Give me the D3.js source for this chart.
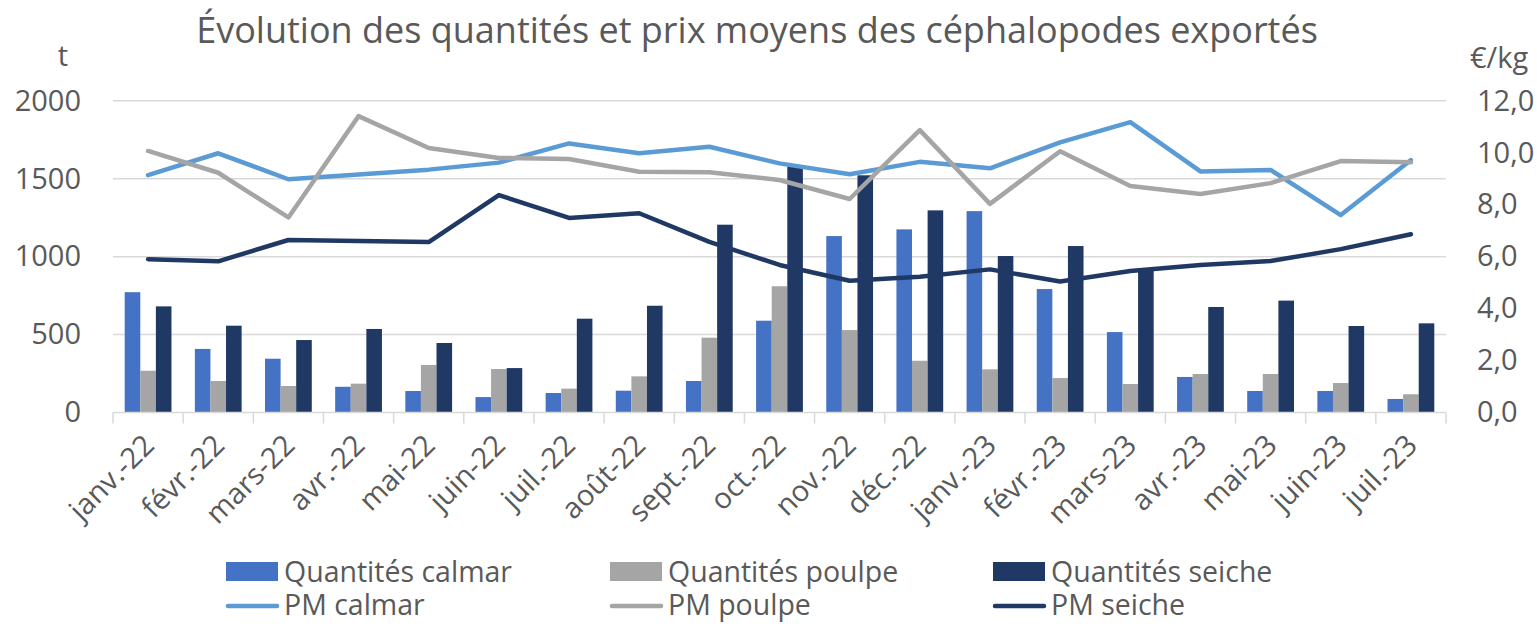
<!DOCTYPE html>
<html>
<head>
<meta charset="utf-8">
<script src="https://cdn.jsdelivr.net/npm/d3@7"></script>
<style>
  body { margin: 0; background: #fff; }
  text { font-family: "Open Sans", sans-serif; fill: #595959; }
</style>
</head>
<body>
<svg id="chart" width="1537" height="624"></svg>
<script>
// months on the x axis
var months = ['janv.-22', 'févr.-22', 'mars-22', 'avr.-22', 'mai-22', 'juin-22', 'juil.-22',
  'août-22', 'sept.-22', 'oct.-22', 'nov.-22', 'déc.-22', 'janv.-23', 'févr.-23',
  'mars-23', 'avr.-23', 'mai-23', 'juin-23', 'juil.-23'];

// quantities (t), left axis
var qteCalmar = [772, 408, 345, 165, 138, 99, 125, 140, 202, 589, 1132, 1175, 1292, 792, 516, 228, 138, 138, 87];
var qtePoulpe = [268, 202, 170, 185, 305, 279, 153, 232, 480, 810, 529, 332, 277, 221, 183, 247, 247, 189, 117];
var qteSeiche = [681, 557, 465, 536, 446, 285, 602, 685, 1205, 1578, 1522, 1297, 1004, 1068, 927, 677, 718, 555, 572];

// average prices (€/kg), right axis
var pmCalmar = [9.14, 9.98, 8.98, 9.16, 9.35, 9.62, 10.36, 9.98, 10.23, 9.59, 9.17, 9.65, 9.40, 10.40, 11.18, 9.28, 9.34, 7.60, 9.72];
var pmPoulpe = [10.07, 9.23, 7.51, 11.41, 10.18, 9.80, 9.76, 9.27, 9.25, 8.95, 8.22, 10.87, 8.03, 10.06, 8.72, 8.41, 8.83, 9.68, 9.63];
var pmSeiche = [5.90, 5.82, 6.64, 6.60, 6.56, 8.37, 7.49, 7.67, 6.57, 5.68, 5.07, 5.23, 5.51, 5.04, 5.45, 5.68, 5.83, 6.29, 6.86];

var leftTicks = [0, 500, 1000, 1500, 2000];
var rightTicks = [0, 2, 4, 6, 8, 10, 12];

var colors = {
  calmarBar: '#4472c4',
  poulpe: '#a5a5a5',
  seiche: '#203864',
  calmarLine: '#5b9bd5'
};

var svg = d3.select('#chart');
var plotLeft = 113, plotRight = 1446, plotTop = 100.8, plotBottom = 412.5;

var x = d3.scaleBand().domain(months).range([plotLeft, plotRight]);
var y = d3.scaleLinear().domain([0, 2000]).range([plotBottom, plotTop]);
var y2 = d3.scaleLinear().domain([0, 12]).range([plotBottom, plotTop]);

// bar groups: gap width 150% like the excel chart
var barW = x.bandwidth() / 4.5;
var sub = d3.scaleBand().domain(['calmar', 'poulpe', 'seiche'])
  .range([x.bandwidth() / 2 - 1.5 * barW, x.bandwidth() / 2 + 1.5 * barW]);

// gridlines
svg.append('g')
  .selectAll('line')
  .data(leftTicks.slice(1))
  .enter()
  .append('line')
  .attr('x1', plotLeft).attr('x2', plotRight)
  .attr('y1', function(d) { return y(d); })
  .attr('y2', function(d) { return y(d); })
  .attr('stroke', '#d9d9d9')
  .attr('stroke-width', 1.5);

// bars
var bars = [
  { key: 'calmar', values: qteCalmar, color: colors.calmarBar },
  { key: 'poulpe', values: qtePoulpe, color: colors.poulpe },
  { key: 'seiche', values: qteSeiche, color: colors.seiche }
];

bars.forEach(function(s) {
  svg.append('g')
    .selectAll('rect')
    .data(s.values)
    .enter()
    .append('rect')
    .attr('x', function(d, i) { return x(months[i]) + sub(s.key); })
    .attr('width', sub.bandwidth())
    .attr('y', function(d) { return y(d); })
    .attr('height', function(d) { return y(0) - y(d); })
    .attr('fill', s.color);
});

// x axis line + ticks at category boundaries
var xAxis = svg.append('g');
xAxis.append('line')
  .attr('x1', plotLeft).attr('x2', plotRight)
  .attr('y1', plotBottom).attr('y2', plotBottom)
  .attr('stroke', '#d9d9d9').attr('stroke-width', 1.5);

xAxis.selectAll('.tk')
  .data(months.concat(['end']))
  .enter()
  .append('line')
  .attr('x1', function(d, i) { return plotLeft + i * x.step(); })
  .attr('x2', function(d, i) { return plotLeft + i * x.step(); })
  .attr('y1', plotBottom).attr('y2', plotBottom + 11)
  .attr('stroke', '#d9d9d9').attr('stroke-width', 1.5);

xAxis.selectAll('.lbl')
  .data(months)
  .enter()
  .append('text')
  .attr('text-anchor', 'end')
  .attr('font-size', 29)
  .attr('transform', function(d) {
    var cx = x(d) + x.bandwidth() / 2 + 8;
    return 'translate(' + cx + ',447) rotate(-45)';
  })
  .text(function(d) { return d; });

// price lines
var lines = [
  { values: pmCalmar, color: colors.calmarLine },
  { values: pmPoulpe, color: colors.poulpe },
  { values: pmSeiche, color: colors.seiche }
];

var lineGen = d3.line()
  .x(function(d, i) { return x(months[i]) + x.bandwidth() / 2; })
  .y(function(d) { return y2(d); });

lines.forEach(function(s) {
  svg.append('path')
    .datum(s.values)
    .attr('d', lineGen)
    .attr('fill', 'none')
    .attr('stroke', s.color)
    .attr('stroke-width', 4.5)
    .attr('stroke-linejoin', 'round')
    .attr('stroke-linecap', 'round');
});

// y axes
var gl = svg.append('g')
  .attr('transform', 'translate(' + plotLeft + ',0)')
  .call(d3.axisLeft(y).tickValues(leftTicks).tickSize(0).tickPadding(32)
    .tickFormat(d3.format('d')));
var gr = svg.append('g')
  .attr('transform', 'translate(' + plotRight + ',0)')
  .call(d3.axisRight(y2).tickValues(rightTicks).tickSize(0).tickPadding(31)
    .tickFormat(function(d) { return d3.format('.1f')(d).replace('.', ','); }));

[gl, gr].forEach(function(g) {
  g.select('.domain').remove();
  g.selectAll('text')
    .attr('font-size', 29)
    .attr('font-family', '"Open Sans", sans-serif')
    .attr('fill', '#595959');
});

// unit labels
svg.append('text').attr('x', 63).attr('y', 66).attr('text-anchor', 'middle')
  .attr('font-size', 29).text('t');
svg.append('text').attr('x', 1470).attr('y', 68)
  .attr('font-size', 29).text('€/kg');

// title
svg.append('text')
  .attr('x', 757).attr('y', 43)
  .attr('text-anchor', 'middle')
  .attr('font-size', 36)
  .text('Évolution des quantités et prix moyens des céphalopodes exportés');

// legend
var legend = [
  { label: 'Quantités calmar', color: colors.calmarBar, type: 'bar', col: 0, row: 0 },
  { label: 'Quantités poulpe', color: colors.poulpe, type: 'bar', col: 1, row: 0 },
  { label: 'Quantités seiche', color: colors.seiche, type: 'bar', col: 2, row: 0 },
  { label: 'PM calmar', color: colors.calmarLine, type: 'line', col: 0, row: 1 },
  { label: 'PM poulpe', color: colors.poulpe, type: 'line', col: 1, row: 1 },
  { label: 'PM seiche', color: colors.seiche, type: 'line', col: 2, row: 1 }
];
var colX = [226, 610, 993];
var rowY = [572, 605];

var li = svg.append('g')
  .selectAll('g')
  .data(legend)
  .enter()
  .append('g')
  .attr('transform', function(d) { return 'translate(' + colX[d.col] + ',' + rowY[d.row] + ')'; });

li.filter(function(d) { return d.type === 'bar'; })
  .append('rect')
  .attr('x', 0).attr('y', -10).attr('width', 52).attr('height', 19)
  .attr('fill', function(d) { return d.color; });

li.filter(function(d) { return d.type === 'line'; })
  .append('line')
  .attr('x1', 2).attr('x2', 51).attr('y1', 1).attr('y2', 1)
  .attr('stroke', function(d) { return d.color; })
  .attr('stroke-width', 4.5)
  .attr('stroke-linecap', 'round');

li.append('text')
  .attr('x', 58).attr('dy', '0.35em')
  .attr('font-size', 28.5)
  .text(function(d) { return d.label; });
</script>
</body>
</html>
